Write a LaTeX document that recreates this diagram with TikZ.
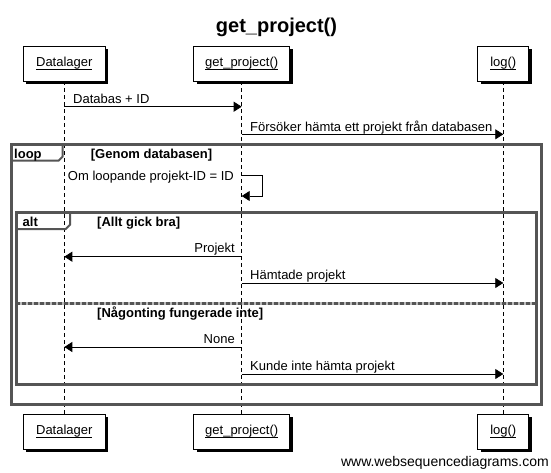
\documentclass[tikz,border=0pt]{standalone}
\usepackage{fontspec}
\setmainfont{Liberation Sans}
\usetikzlibrary{arrows.meta,shadows}
\definecolor{framegray}{HTML}{555555}
\definecolor{gapgray}{HTML}{BBBBBB}
\newcommand{\ulabel}[1]{\setbox0=\hbox{#1}\rlap{\rule[-2.4pt]{\wd0}{0.7pt}}\box0}
\begin{document}
\begin{tikzpicture}[x=1pt,y=-1pt,
  actor/.style={draw=black, line width=0.8pt, fill=white, minimum height=35pt,
    inner sep=0pt, font=\fontsize{13}{15}\selectfont,
    drop shadow={shadow xshift=3pt, shadow yshift=-3pt, fill=black, opacity=1}},
  lifeline/.style={draw=black, line width=0.8pt, dash pattern=on 4pt off 3pt},
  msg/.style={draw=black, line width=0.8pt, -{Triangle[length=8pt,width=10pt]}},
  msgtxt/.style={inner sep=0pt, font=\fontsize{13}{15}\selectfont},
  frametxt/.style={inner sep=0pt, font=\fontsize{13}{15}\selectfont\bfseries},
  framebox/.style={draw=framegray, line width=3pt},
  frametab/.style={draw=framegray, line width=2pt},
]
\useasboundingbox (0,0) rectangle (551,472);
\fill[white] (0,0) rectangle (551,472);

% title
\node[inner sep=0pt, font=\fontsize{20}{24}\selectfont\bfseries, anchor=base] (title) at (276.5,32.5) {get\_project()};

% actors
\node[actor, minimum width=82pt] (dlt) at (64.3,63.5) {\ulabel{Datalager}};
\node[actor, minimum width=96pt] (gpt) at (241.7,63.5) {\ulabel{get\_project()}};
\node[actor, minimum width=51pt] (lgt) at (503.3,63.5) {\ulabel{log()}};
\node[actor, minimum width=82pt] (dlb) at (64.3,431.5) {\ulabel{Datalager}};
\node[actor, minimum width=96pt] (gpb) at (241.7,431.5) {\ulabel{get\_project()}};
\node[actor, minimum width=51pt] (lgb) at (503.3,431.5) {\ulabel{log()}};

% lifelines
\draw[lifeline] (dlt.south) -- (dlb.north);
\draw[lifeline] (gpt.south) -- (gpb.north);
\draw[lifeline] (lgt.south) -- (lgb.north);

% frames
\draw[framebox] (11,144) rectangle (541.5,404);
\draw[frametab] (11,160.7) -- (58.5,160.7) -- (62.7,156.5) -- (62.7,144);
\draw[framebox] (16,212.7) rectangle (536,384);
\draw[frametab] (16,229) -- (65.8,229) -- (70,224.8) -- (70,212.7);
\draw[draw=gapgray, line width=3pt] (16,303.3) -- (536,303.3);
\draw[draw=framegray, line width=3pt, dash pattern=on 4pt off 2pt] (16,303.3) -- (536,303.3);

\node[frametxt, anchor=base west] (looplbl) at (14,158) {loop};
\node[frametxt, anchor=base west] (loopcond) at (90.7,158) {[Genom databasen]};
\node[frametxt, anchor=base west] (altlbl) at (22.5,226) {alt};
\node[frametxt, anchor=base west] (altc1) at (97,226) {[Allt gick bra]};
\node[frametxt, anchor=base west] (altc2) at (97,317) {[Någonting fungerade inte]};

% message end points
\coordinate (m1a) at (64.3,106.7);  \coordinate (m1b) at (241.7,106.7);
\coordinate (m2a) at (241.7,134.3); \coordinate (m2b) at (503.3,134.3);
\coordinate (m3a) at (241.7,175);   \coordinate (m3b) at (241.7,196);
\coordinate (m4a) at (241.7,256.7); \coordinate (m4b) at (64.3,256.7);
\coordinate (m5a) at (241.7,283);   \coordinate (m5b) at (503.3,283);
\coordinate (m6a) at (241.7,347);   \coordinate (m6b) at (64.3,347);
\coordinate (m7a) at (241.7,374);   \coordinate (m7b) at (503.3,374);

\draw[msg] (m1a) -- (m1b);
\draw[msg] (m2a) -- (m2b);
\draw[msg] (m3a) -- ++(20.3,0) |- (m3b);
\draw[msg] (m4a) -- (m4b);
\draw[msg] (m5a) -- (m5b);
\draw[msg] (m6a) -- (m6b);
\draw[msg] (m7a) -- (m7b);

\node[msgtxt, anchor=base west] (t1) at (73,103.5) {Databas + ID};
\node[msgtxt, anchor=base west] (t2) at (250,131) {Försöker hämta ett projekt från databasen};
\node[msgtxt, anchor=base east] (t3) at (234,180) {Om loopande projekt-ID = ID};
\node[msgtxt, anchor=base east] (t4) at (235,252.5) {Projekt};
\node[msgtxt, anchor=base west] (t5) at (250,279.8) {Hämtade projekt};
\node[msgtxt, anchor=base east] (t6) at (235,343.5) {None};
\node[msgtxt, anchor=base west] (t7) at (250,370.7) {Kunde inte hämta projekt};

% watermark
\node[inner sep=0pt, font=\fontsize{14}{16}\selectfont, anchor=base east] (wm) at (549,466.5) {www.websequencediagrams.com};
\end{tikzpicture}
\end{document}
